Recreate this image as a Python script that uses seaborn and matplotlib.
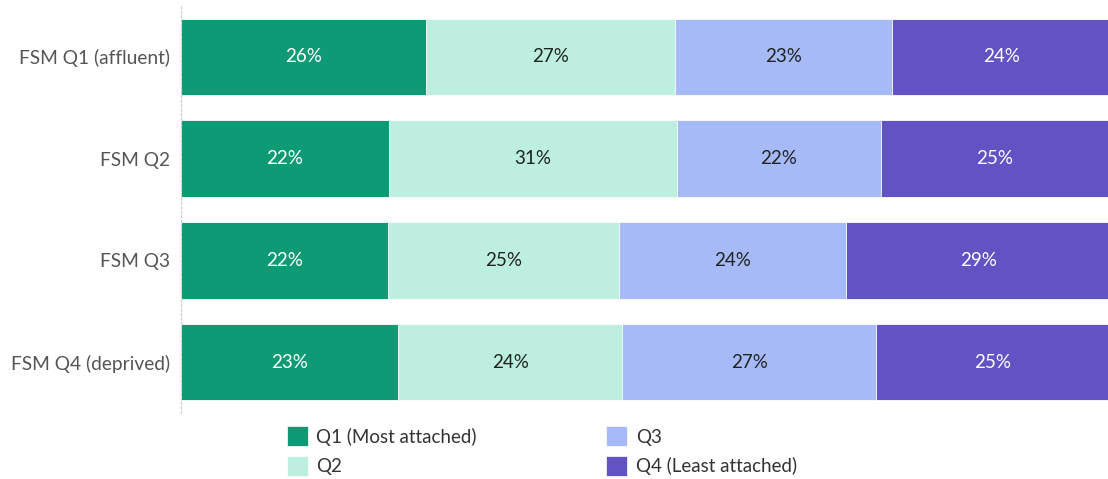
import numpy as np
import pandas as pd
import matplotlib
matplotlib.use("Agg")
import matplotlib.pyplot as plt
import seaborn as sns
from matplotlib.patches import Patch

# data (percent of pupils in each attachment quartile)
groups = ["FSM Q1 (affluent)", "FSM Q2", "FSM Q3", "FSM Q4 (deprived)"]
series = ["Q1 (Most attached)", "Q2", "Q3", "Q4 (Least attached)"]
q1 = [26.4, 22.4, 22.3, 23.4]
q2 = [26.9, 31.1, 25.0, 24.2]
q3 = [23.4, 22.0, 24.4, 27.4]
q4 = [23.6, 24.6, 28.6, 25.0]
colors = ["#0f9a76", "#bcefdf", "#a6baf7", "#6153c4"]
text_colors = ["white", "#222222", "#222222", "white"]

sns.set_theme(style="white")
plt.rcParams["font.family"] = ["Lato", "DejaVu Sans"]

df = pd.DataFrame({"group": groups, series[0]: q1, series[1]: q2,
                   series[2]: q3, series[3]: q4})
cum = df[series].cumsum(axis=1)

fig = plt.figure(figsize=(11.08, 4.79), dpi=100)
ax = fig.add_axes([181 / 1108, 1 - 413 / 479, 1 - 181 / 1108, 407 / 479])

# stacked bars: draw cumulative totals from the back to the front
for i in range(len(series) - 1, -1, -1):
    sns.barplot(x=cum[series[i]], y=df["group"], color=colors[i], orient="h",
                width=0.75, edgecolor="white", linewidth=0.6, saturation=1,
                ax=ax)

for i, s in enumerate(series):
    for j, v in enumerate(df[s]):
        ax.text(cum[s][j] - v / 2, j, f"{round(v):d}%", ha="center",
                va="center", fontsize=13.5, color=text_colors[i])

ax.set_xlim(0, 100)
ax.set_ylim(3.5, -0.5)
ax.set_xlabel("")
ax.set_ylabel("")
ax.set_xticks([])
ax.tick_params(axis="y", length=0, pad=8, labelsize=13.8, labelcolor="#555555")
sns.despine(ax=ax, top=True, right=True, bottom=True)
ax.spines["left"].set_linestyle((0, (2, 2)))
ax.spines["left"].set_color("#cccccc")
ax.spines["left"].set_linewidth(0.8)

handles = [Patch(facecolor=c, edgecolor="white", linewidth=0.5) for c in colors]
fig.legend(handles, series, ncol=2, loc="upper left",
           bbox_to_anchor=(287 / 1108, 1 - 426 / 479), frameon=False,
           borderpad=0, borderaxespad=0,
           fontsize=13.5, handlelength=1.12, handleheight=1.3,
           handletextpad=0.45, columnspacing=6.9, labelspacing=0.5,
           labelcolor="#333333")

fig.savefig("out.png", dpi=100)
